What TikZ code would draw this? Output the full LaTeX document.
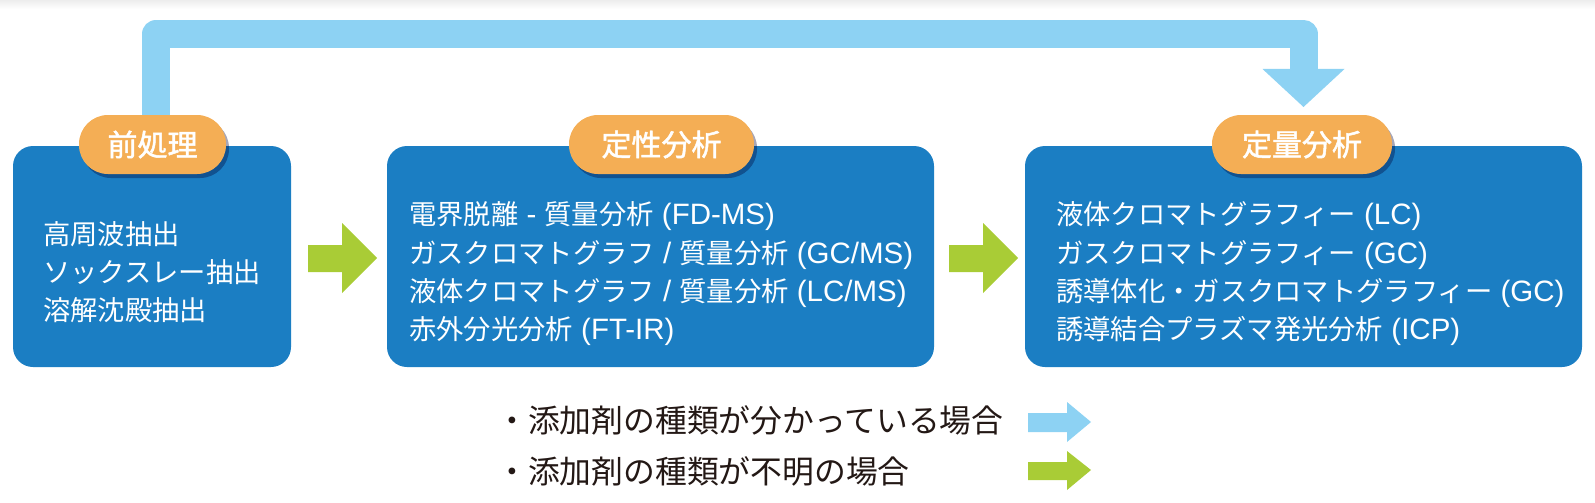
\documentclass[tikz,border=0pt]{standalone}
\usepackage{fontspec}
\newfontfamily\jp{Noto Sans CJK JP}
\newfontfamily\jpb{Noto Sans CJK JP}[FakeBold=1.6]
\newfontfamily\lat{Liberation Sans}[Scale=1.08]
\newcommand{\la}[1]{{\lat #1}}
\usetikzlibrary{shadows,calc}
\definecolor{boxblue}{HTML}{1B7EC3}
\definecolor{pillor}{HTML}{F4AE55}
\definecolor{lblue}{HTML}{8DD2F3}
\definecolor{lgreen}{HTML}{A9CC36}
\definecolor{legtxt}{HTML}{231815}
\tikzset{
  mainbox/.style={fill=boxblue, rounded corners=20pt},
  pill/.style={fill=pillor, rounded corners=29pt, minimum height=59pt, inner sep=0pt,
    text=white, font=\jpb\fontsize{30}{30}\selectfont,
    drop shadow={opacity=0.35, shadow xshift=3pt, shadow yshift=-4pt, fill=black!80!blue}},
  boxtext/.style={anchor=west, align=left, inner sep=0pt, text=white,
    font=\jp\fontsize{27.3}{38.3}\selectfont},
  legtext/.style={anchor=west, inner sep=0pt, text=legtxt,
    font=\jp\fontsize{31.8}{31.8}\selectfont},
  lbline/.style={draw=lblue, line width=28pt, line join=round},
}
\begin{document}
\begin{tikzpicture}[x=1pt,y=-1pt]
\useasboundingbox (0,0) rectangle (1595,503);
\shade[top color=black!7, bottom color=white] (0,0) rectangle (1595,9);

% main boxes
\fill[mainbox] (13,146) rectangle (291,367);
\fill[mainbox] (387,146) rectangle (934,367);
\fill[mainbox] (1025,146) rectangle (1582,367);

% light blue connector
\coordinate (lbstart) at (156,140);
\coordinate (lbtop) at (0,34);
\coordinate (lbhead) at (1303.5,69);
\coordinate (lbtip) at (1303.5,107);
\draw[lbline] (lbstart) -- (lbstart |- lbtop) -| (lbhead);
\fill[lblue] ($(lbhead)+(-41,0)$) -- ($(lbhead)+(41,0)$) -- (lbtip) -- cycle;

% pills
\node[pill, minimum width=147pt] (p1) at (152.5,144.5) {前処理};
\node[pill, minimum width=185pt] (p2) at (661.5,144.5) {定性分析};
\node[pill, minimum width=180pt] (p3) at (1302,144.5) {定量分析};

% box texts
\node[boxtext] (t1) at (43,272) {高周波抽出\\ソックスレー抽出\\溶解沈殿抽出};
\node[boxtext] (t2) at (409,274) {電界脱離\la{ - }質量分析\la{ (FD-MS)}\\ガスクロマトグラフ\la{ / }質量分析\la{ (GC/MS)}\\液体クロマトグラフ\la{ / }質量分析\la{ (LC/MS)}\\赤外分光分析\la{ (FT-IR)}};
\node[boxtext] (t3) at (1056,274) {液体クロマトグラフィー\la{ (LC)}\\ガスクロマトグラフィー\la{ (GC)}\\誘導体化・ガスクロマトグラフィー\la{ (GC)}\\誘導結合プラズマ発光分析\la{ (ICP)}};

% green arrows
\fill[lgreen] (308,245) -- (342,245) -- (342,223) -- (377,258) -- (342,293) -- (342,272) -- (308,272) -- cycle;
\fill[lgreen] (949,245) -- (983,245) -- (983,223) -- (1018,258) -- (983,293) -- (983,272) -- (949,272) -- cycle;

% legend
\node[legtext] (l1) at (496,420) {・添加剤の種類が分かっている場合};
\node[legtext] (l2) at (496,471) {・添加剤の種類が不明の場合};
\fill[lblue] (1028,413) -- (1067,413) -- (1067,402) -- (1091,422) -- (1067,442) -- (1067,432) -- (1028,432) -- cycle;
\fill[lgreen] (1028,462) -- (1067,462) -- (1067,451) -- (1091,470) -- (1067,490) -- (1067,480) -- (1028,480) -- cycle;
\end{tikzpicture}
\end{document}
